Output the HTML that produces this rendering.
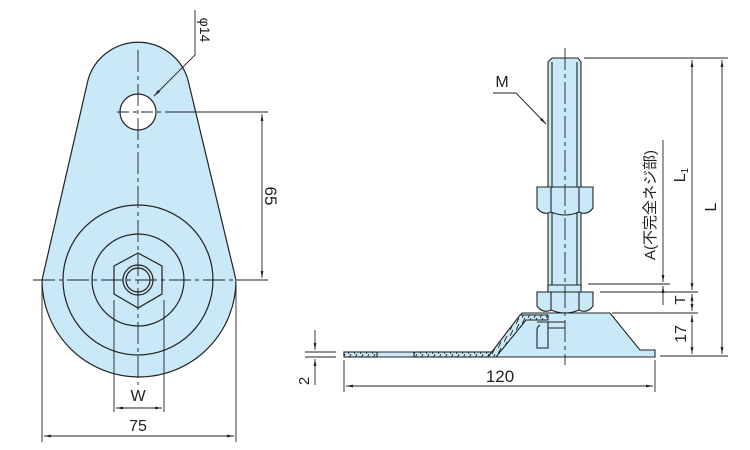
<!DOCTYPE html>
<html><head><meta charset="utf-8"><style>
html,body{margin:0;padding:0;background:#fff;}
svg{display:block;}
text{font-family:"Liberation Sans","Noto Sans CJK JP",sans-serif;fill:#222;}
</style></head><body>
<svg width="750" height="450" viewBox="0 0 750 450" xmlns="http://www.w3.org/2000/svg">
<defs>
<marker id="a" viewBox="0 0 10 10" refX="10" refY="5" markerWidth="8" markerHeight="8" orient="auto-start-reverse"><path d="M0,3 L10,5 L0,7 z" fill="#222"/></marker>
<pattern id="h" width="6" height="6" patternUnits="userSpaceOnUse"><rect width="6" height="6" fill="#c9e9f8"/><path d="M0,6 L3,0" stroke="#333" stroke-width="1"/></pattern>
</defs>
<g stroke="#222" stroke-width="1.2" fill="none">
<path d="M42,280 L88,80 A52,52 0 0 1 188,80 L236,280 A97,97 0 0 1 42,280 Z" fill="#c9e9f8"/>
<circle cx="138" cy="112" r="18" fill="#fff"/>
<circle cx="138" cy="280" r="75"/>
<circle cx="138" cy="280" r="46"/>
<polygon points="138,253 162,266 162,294 138,308 114,294 114,266"/>
<circle cx="138" cy="280" r="15"/>
<circle cx="138" cy="280" r="12"/>
</g>
<g stroke="#222" stroke-width="0.9" fill="none">
<path d="M138,50 V385" stroke-dasharray="22,4,4,4"/>
<path d="M33,280 H250" stroke-dasharray="22,4,4,4"/>
<path d="M117,112 H175" stroke-dasharray="12,4,4,4"/>
<path d="M175,112 H268"/>
<path d="M240,280 H268"/>
<path d="M262,114 V278" marker-start="url(#a)" marker-end="url(#a)"/>
<path d="M195,10 V55 L154,96" marker-end="url(#a)"/>
<path d="M114,300 V412 M164,300 V412"/>
<path d="M116,408 H162" marker-start="url(#a)" marker-end="url(#a)"/>
<path d="M42,285 V442 M236,285 V442"/>
<path d="M44,436 H234" marker-start="url(#a)" marker-end="url(#a)"/>
</g>
<text x="138" y="401" font-size="16" text-anchor="middle">W</text>
<text x="138" y="431" font-size="16" text-anchor="middle">75</text>
<text transform="translate(265,196) rotate(90)" font-size="17" text-anchor="middle">65</text>
<text transform="translate(200,30) rotate(90)" font-size="14" text-anchor="middle">φ14</text>

<g stroke="#222" stroke-width="1.1">
<path d="M344,352 H492 L522,313 H610 L640,350 H655 V357 H344 Z" fill="#c9e9f8"/>
<rect x="344" y="352" width="33" height="5" fill="url(#h)"/>
<rect x="414" y="352" width="78" height="5" fill="url(#h)"/>
<path d="M488,357 L520,315 H548 V320 H526 L496,357 Z" fill="url(#h)"/>
<path d="M548,62 L552,58 H578 L581,62 V289 H548 Z" fill="#c9e9f8"/>
<path d="M552,62 V289 M577,62 V289" fill="none"/>
<path d="M537,187 H593 V208 Q587,216 579,212 Q565,218 551,212 Q543,216 537,208 Z" fill="#c9e9f8"/>
<path d="M551,187 V212 M579,187 V212" fill="none"/>
<path d="M537,292 H593 V306 Q587,314 579,310 Q565,316 551,310 Q543,314 537,306 Z" fill="#c9e9f8"/>
<path d="M551,292 V310 M579,292 V310" fill="none"/>
<path d="M548,285 H581 V292 H548 Z" fill="#c9e9f8"/>
<path d="M537,322 H565 M540,325 Q537,327 537,330 V348 H548 V322 M548,328 H565" fill="none"/>
</g>
<g stroke="#222" stroke-width="0.9" fill="none">
<path d="M565,48 V365" stroke-dasharray="22,4,4,4"/>
<path d="M493,93 H516 L546,124" marker-end="url(#a)"/>
<path d="M584,58 H728"/>
<path d="M588,284 H670 M600,292 H698 M612,313 H698 M660,356 H728"/>
<path d="M663,140 V282" marker-end="url(#a)"/>
<path d="M692,60 V290" marker-start="url(#a)" marker-end="url(#a)"/>
<path d="M722,60 V354" marker-start="url(#a)" marker-end="url(#a)"/>
<path d="M663,286 V305" marker-start="url(#a)"/>
<path d="M692,294 V311" marker-start="url(#a)" marker-end="url(#a)"/>
<path d="M692,315 V354" marker-start="url(#a)" marker-end="url(#a)"/>
<path d="M305,352 H336 M305,357 H336"/>
<path d="M315,330 V350" marker-end="url(#a)"/>
<path d="M315,385 V359" marker-end="url(#a)"/>
<path d="M344,360 V392 M655,360 V392"/>
<path d="M346,386 H653" marker-start="url(#a)" marker-end="url(#a)"/>
</g>
<text x="502" y="87" font-size="16" text-anchor="middle">M</text>
<text x="500" y="382" font-size="17" text-anchor="middle">120</text>
<text transform="translate(309,381) rotate(-90)" font-size="15" text-anchor="middle">2</text>
<text transform="translate(686,334) rotate(-90)" font-size="16" text-anchor="middle">17</text>
<text transform="translate(685,300) rotate(-90)" font-size="15" text-anchor="middle">T</text>
<text transform="translate(685,175) rotate(-90)" font-size="16" text-anchor="middle">L<tspan font-size="10" dy="3">1</tspan></text>
<text transform="translate(716,207) rotate(-90)" font-size="16" text-anchor="middle">L</text>
<text transform="translate(655,205) rotate(-90)" font-size="15" text-anchor="middle">A(不完全ネジ部)</text>
</svg>
</body></html>
